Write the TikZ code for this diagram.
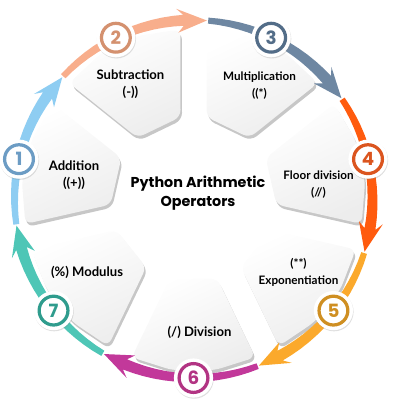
\documentclass[tikz,border=0pt]{standalone}
\usepackage{fontspec}
\setmainfont{Lato}
\newfontfamily\titlefont{Poppins}
\usetikzlibrary{shadows}

\definecolor{arrA}{HTML}{8ECDF2}
\definecolor{arrB}{HTML}{F8AE8C}
\definecolor{arrC}{HTML}{6E87A2}
\definecolor{arrD}{HTML}{FF5B0E}
\definecolor{arrE}{HTML}{FBA92C}
\definecolor{arrF}{HTML}{C2389A}
\definecolor{arrG}{HTML}{4EC6B6}
\definecolor{ringA}{HTML}{6C9CC4}
\definecolor{ringB}{HTML}{D4916F}
\definecolor{ringC}{HTML}{536D88}
\definecolor{ringD}{HTML}{DB551F}
\definecolor{ringE}{HTML}{CF8F22}
\definecolor{ringF}{HTML}{B23483}
\definecolor{ringG}{HTML}{2F9C8D}

\tikzset{tileshadow/.style = {fill=black!22, rounded corners=5pt}}
\tikzset{tile/.style = {top color=white, bottom color=black!7, shading angle=25, rounded corners=5pt}}
\tikzset{badge/.style = {shape=circle, fill=white, minimum size=0.98cm, inner sep=0pt,
    text=#1, font=\titlefont\bfseries\fontsize{13}{13}\selectfont,
    drop shadow={opacity=0.25, shadow xshift=0.4pt, shadow yshift=-0.8pt},
    path picture={\draw[#1, line width=2.3pt] (path picture bounding box.center) circle[radius=0.36cm];}}}
\tikzset{optext/.style = {align=center, font=\bfseries\fontsize{9.3}{12}\selectfont}}
\tikzset{optextsmall/.style = {align=center, font=\bfseries\fontsize{8.3}{12}\selectfont}}
\tikzset{titletext/.style = {align=center, font=\titlefont\bfseries\fontsize{10.2}{13.5}\selectfont}}

% one grey tile of the ring, centred on angle #1
\newcommand{\tile}[1]{%
  \fill[tileshadow, shift={(1.5,-3)}] ({#1+16.7}:83) -- ({#1-16.7}:83) -- ({#1-21.3}:170)
    -- ({#1-7}:172.5) -- ({#1+7}:172.5) -- ({#1+21.3}:170) -- cycle;
  \shade[tile] ({#1+16.7}:83) -- ({#1-16.7}:83) -- ({#1-21.3}:170)
    -- ({#1-7}:172.5) -- ({#1+7}:172.5) -- ({#1+21.3}:170) -- cycle;}

% one coloured arrow of the ring, passing angle #1
\newcommand{\ringarrow}[2]{%
  \fill[#2] plot[domain=0:1, samples=14] ({#1+21-43.5*\x}:{182+2.5*\x})
    -- ({#1-20.5}:191) -- ({#1-30}:179) -- ({#1-20.5}:167)
    -- plot[domain=0:1, samples=14] ({#1-22.5+43.5*\x}:{173.5+2.5*\x}) -- cycle;}

\begin{document}
\begin{tikzpicture}[x=0.025cm, y=0.025cm]
            \useasboundingbox (-193.5,-202) rectangle (211.5,199);

            % Tiles
            \tile{167.14}
            \tile{115.71}
            \tile{64.29}
            \tile{12.86}
            \tile{-38.57}
            \tile{-90}
            \tile{-141.43}

            % Ring
            \ringarrow{167.14}{arrA}
            \ringarrow{115.71}{arrB}
            \ringarrow{64.29}{arrC}
            \ringarrow{12.86}{arrD}
            \ringarrow{-38.57}{arrE}
            \ringarrow{-90}{arrF}
            \ringarrow{-141.43}{arrG}

            % Numbers
            \node[badge=ringA] (n1) at (167.14:179) {1};
            \node[badge=ringB] (n2) at (115.71:179) {2};
            \node[badge=ringC] (n3) at (64.29:179) {3};
            \node[badge=ringD] (n4) at (12.86:179) {4};
            \node[badge=ringE] (n5) at (-38.57:179) {5};
            \node[badge=ringF] (n6) at (-90:179) {6};
            \node[badge=ringG] (n7) at (-141.43:179) {7};

            % Texts
            \node[titletext] (title) at (4.5,5.5) {Python Arithmetic\\Operators};
            \node[optext] (add) at (-119.5,23.5) {Addition\\((+))};
            \node[optext] (sub) at (-63,114.5) {Subtraction\\(-))};
            \node[optextsmall] (mul) at (66,113.5) {Multiplication\\((*)};
            \node[optextsmall] (flr) at (125,14.5) {Floor division\\(//)};
            \node[optextsmall] (pow) at (105,-73) {(**)\\Exponentiation};
            \node[optext] (div) at (6,-133) {(/) Division};
            \node[optext] (mod) at (-106.5,-73) {(\%) Modulus};
        \end{tikzpicture}
\end{document}
